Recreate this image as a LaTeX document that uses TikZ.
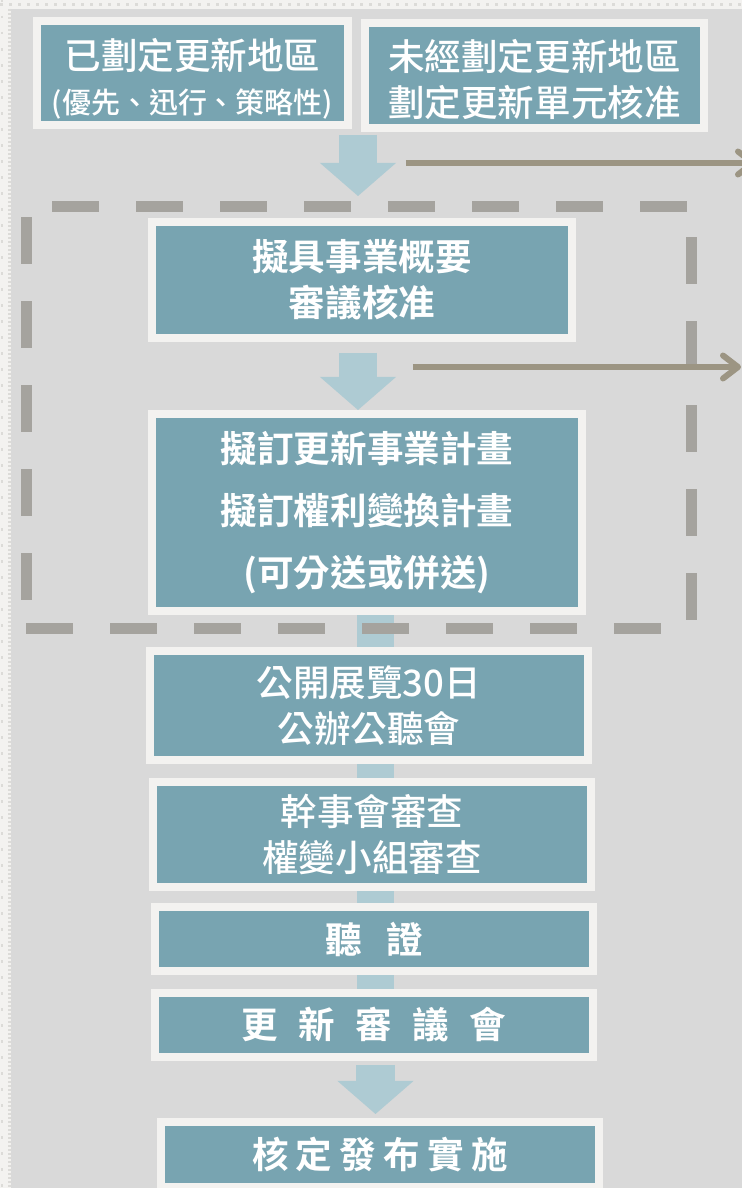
\documentclass[tikz,border=0pt]{standalone}
\usepackage{fontspec}
\setmainfont{Noto Sans CJK TC Medium}[BoldFont={Noto Sans CJK TC Bold}]
\usetikzlibrary{arrows.meta,backgrounds}
\definecolor{boxteal}{HTML}{78A4B1}
\definecolor{boxframe}{HTML}{F3F2F0}
\definecolor{flowblue}{HTML}{AECBD3}
\definecolor{dashgray}{HTML}{A5A39E}
\definecolor{linkgray}{HTML}{9C9583}
\definecolor{canvasgray}{HTML}{D9D9D9}
\definecolor{dotgray}{HTML}{DCDBD8}
\begin{document}
\begin{tikzpicture}[scale=0.2,
  stepbox/.style={fill=boxteal, draw=boxframe, line width=0.16cm, inner sep=0pt, align=center, text=white, font=\fontsize{20.8}{26}\selectfont},
  boldstep/.style={stepbox, font=\fontsize{20.8}{26}\selectfont\bfseries},
  flow/.style={draw=flowblue, line width=0.76cm, -{Triangle[width=1.52cm, length=0.66cm, line width=0pt]}},
  spine/.style={draw=flowblue, line width=0.72cm},
  linkarrow/.style={draw=linkgray, line width=0.12cm, -{Straight Barb[length=0.3cm, width=0.46cm, round]}},
  frameline/.style={draw=dashgray, line width=0.22cm, dash pattern=on 0.94cm off 0.74cm}]
\useasboundingbox (0,0) rectangle (74.2,-118.8);
\clip (0,0) rectangle (74.2,-118.8);
\node [stepbox, minimum width=6.22cm, minimum height=2.08cm] (zoned) at (19.25,-7.3) {\rule{0pt}{24pt}已劃定更新地區\\[-1pt]{\fontsize{16.5}{22}\selectfont(優先、迅行、策略性)}};
\node [stepbox, minimum width=6.78cm, minimum height=2.10cm] (unit) at (53.45,-7.55) {\rule{0pt}{22pt}未經劃定更新地區\\劃定更新單元核准};
\node [boldstep, minimum width=8.40cm, minimum height=2.32cm] (outline) at (36.2,-28.0) {擬具事業概要\\審議核准};
\node [boldstep, minimum width=8.60cm, minimum height=3.94cm, font=\fontsize{20.8}{35.1}\selectfont\bfseries] (plans) at (36.7,-51.25) {擬訂更新事業計畫\\擬訂權利變換計畫\\(可分送或併送)};
\node [stepbox, minimum width=8.76cm, minimum height=2.18cm] (display) at (36.9,-70.55) {公開展覽30日\\公辦公聽會};
\node [stepbox, minimum width=8.76cm, minimum height=2.10cm] (review) at (37.2,-83.45) {幹事會審查\\權變小組審查};
\node [boldstep, minimum width=8.76cm, minimum height=1.28cm] (hearing) at (37.4,-93.9) {聽\hspace{0.67em}證};
\node [boldstep, minimum width=8.76cm, minimum height=1.28cm] (council) at (37.4,-102.5) {更\hspace{0.56em}新\hspace{0.56em}審\hspace{0.56em}議\hspace{0.56em}會};
\node [boldstep, minimum width=8.76cm, minimum height=1.30cm] (approval) at (38.0,-115.45) {核\hspace{0.2em}定\hspace{0.2em}發\hspace{0.2em}布\hspace{0.2em}實\hspace{0.2em}施};
\coordinate (feed) at (35.8,-13.5);
\coordinate (spinex) at (37.55,0);
\begin{pgfonlayer}{background}
\fill [boxframe] (0,0) rectangle (74.2,-118.8);
\draw [dotgray, line width=0.05cm, dash pattern=on 0.05cm off 0.13cm] (0,-0.45) -- (74.2,-0.45);
\draw [dotgray, line width=0.05cm, dash pattern=on 0.05cm off 0.27cm] (0.2,0) -- (0.2,-118.8);
\draw [dotgray, line width=0.05cm, dash pattern=on 0.04cm off 0.04cm] (0.95,-0.9) -- (0.95,-118.8);
\fill [canvasgray] (1.1,-0.9) rectangle (74.2,-118.8);
\draw [spine] (plans.south -| spinex) -- (council.south -| spinex);
\end{pgfonlayer}
\draw [flow, shorten >=0.44cm] (feed) -- (feed |- outline.north);
\draw [flow, shorten <=0.22cm] (outline.south -| feed) -- (plans.north -| feed);
\draw [flow, shorten <=0.08cm, shorten >=0.08cm] (council.south -| spinex) -- (approval.north -| spinex);
\draw [frameline] (5.2,-20.6) -- (69.1,-20.6);
\draw [frameline] (2.6,-21.7) -- (2.6,-63.3);
\draw [frameline] (69.1,-23.7) -- (69.1,-62.8);
\draw [frameline] (2.6,-62.8) -- (69.1,-62.8);
\coordinate (out1) at (40.6,-16.3);
\coordinate (exit1) at (75.6,-16.3);
\coordinate (out2) at (41.3,-36.7);
\coordinate (exit2) at (74.1,-36.7);
\draw [linkarrow] (out1) -- (exit1);
\draw [linkarrow] (out2) -- (exit2);
\end{tikzpicture}
\end{document}
